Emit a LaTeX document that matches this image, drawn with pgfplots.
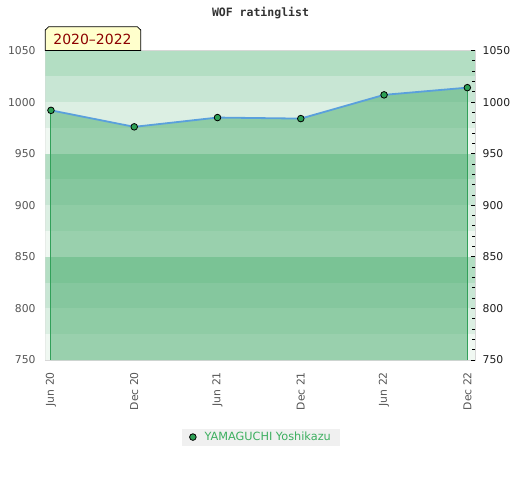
\documentclass[border=0pt]{standalone}
\usepackage{fontspec}
\setmainfont{DejaVu Sans}
\newfontfamily\titlefont{DejaVu Sans Mono}
\usepackage{pgfplots}
\pgfplotsset{compat=1.18}
\definecolor{bandA}{RGB}{179,222,195}
\definecolor{bandB}{RGB}{200,230,212}
\definecolor{bandC}{RGB}{220,239,227}
\definecolor{bandD}{RGB}{240,248,242}
\definecolor{areag}{RGB}{67,170,105}
\definecolor{edgeg}{RGB}{50,160,90}
\definecolor{lineb}{RGB}{90,160,220}
\definecolor{markg}{RGB}{45,160,85}
\definecolor{legtext}{RGB}{60,175,95}
\definecolor{labred}{RGB}{140,0,0}
\definecolor{labbg}{RGB}{255,255,204}
\definecolor{leftlab}{RGB}{85,85,85}
\definecolor{rightlab}{RGB}{30,30,30}
\definecolor{legbg}{RGB}{240,240,240}
\definecolor{borderg}{RGB}{215,215,215}
\begin{document}
\begin{tikzpicture}
\path[use as bounding box] (0pt,0pt) rectangle (520pt,480pt);
\begin{axis}[
  at={(45.3pt,120pt)}, anchor=south west,
  scale only axis, width=429.7pt, height=309.5pt,
  xmin=-0.068, xmax=5.092, ymin=750, ymax=1050,
  xtick={0,1,2,3,4,5},
  xticklabels={Jun 20,Dec 20,Jun 21,Dec 21,Jun 22,Dec 22},
  ytick={750,800,850,900,950,1000,1050},
  major tick length=0pt, minor tick length=0pt,
  /pgf/number format/assume math mode=true,
  /pgf/number format/1000 sep={},
  axis line style={draw=borderg, line width=1.2pt},
  xticklabel style={rotate=90, anchor=east, inner sep=0pt, text=leftlab,
    font=\fontsize{10.8}{12}\selectfont},
  xticklabel shift=12pt,
  yticklabel style={anchor=east, inner sep=0pt, text=leftlab,
    font=\fontsize{10.8}{12}\selectfont},
  yticklabel shift=9.5pt,
  legend style={at={(0.502,-0.249)}, anchor=center, fill=legbg, draw=none,
    font=\fontsize{11.3}{12.5}\selectfont, text=legtext, inner xsep=7pt, inner ysep=1.5pt,
    /tikz/every odd column/.append style={column sep=6pt}},
  legend cell align=left,
  clip=true,
]
% background bands
\addplot[draw=none, fill=bandD, forget plot] coordinates {(-0.068,750)(5.092,750)(5.092,775)(-0.068,775)} --cycle;
\addplot[draw=none, fill=bandC, forget plot] coordinates {(-0.068,775)(5.092,775)(5.092,800)(-0.068,800)} --cycle;
\addplot[draw=none, fill=bandB, forget plot] coordinates {(-0.068,800)(5.092,800)(5.092,825)(-0.068,825)} --cycle;
\addplot[draw=none, fill=bandA, forget plot] coordinates {(-0.068,825)(5.092,825)(5.092,850)(-0.068,850)} --cycle;
\addplot[draw=none, fill=bandD, forget plot] coordinates {(-0.068,850)(5.092,850)(5.092,875)(-0.068,875)} --cycle;
\addplot[draw=none, fill=bandC, forget plot] coordinates {(-0.068,875)(5.092,875)(5.092,900)(-0.068,900)} --cycle;
\addplot[draw=none, fill=bandB, forget plot] coordinates {(-0.068,900)(5.092,900)(5.092,925)(-0.068,925)} --cycle;
\addplot[draw=none, fill=bandA, forget plot] coordinates {(-0.068,925)(5.092,925)(5.092,950)(-0.068,950)} --cycle;
\addplot[draw=none, fill=bandD, forget plot] coordinates {(-0.068,950)(5.092,950)(5.092,975)(-0.068,975)} --cycle;
\addplot[draw=none, fill=bandC, forget plot] coordinates {(-0.068,975)(5.092,975)(5.092,1000)(-0.068,1000)} --cycle;
\addplot[draw=none, fill=bandB, forget plot] coordinates {(-0.068,1000)(5.092,1000)(5.092,1025)(-0.068,1025)} --cycle;
\addplot[draw=none, fill=bandA, forget plot] coordinates {(-0.068,1025)(5.092,1025)(5.092,1050)(-0.068,1050)} --cycle;
% area under the rating line
\addplot[draw=none, fill=areag, fill opacity=0.5, forget plot] coordinates {
  (0,750) (0,992) (1,976) (2,985) (3,984) (4,1007) (5,1014) (5,750)} --cycle;
\addplot[edgeg, line width=1pt, forget plot] coordinates {(0,750) (0,992)};
\addplot[edgeg, line width=1pt, forget plot] coordinates {(5,750) (5,1014)};
% rating line
\addplot[lineb, line width=1.8pt, mark=*, mark size=3.3pt,
  mark options={fill=markg, draw=black, line width=0.8pt},
  legend image code/.code={\draw[fill=markg, draw=black, line width=0.8pt] (0pt,0pt) circle (3.3pt);}]
  coordinates {(0,992) (1,976) (2,985) (3,984) (4,1007) (5,1014)};
\addlegendentry{YAMAGUCHI Yoshikazu}
\end{axis}
\begin{axis}[
  at={(45.3pt,120pt)}, anchor=south west,
  scale only axis, width=429.7pt, height=309.5pt,
  xmin=-0.068, xmax=5.092, ymin=750, ymax=1050,
  axis x line=none, axis y line*=right,
  y axis line style={draw=none},
  ytick={750,800,850,900,950,1000,1050},
  minor y tick num=4,
  tick align=inside,
  major tick length=4pt, minor tick length=3pt,
  tick style={black, line width=0.8pt},
  /pgf/number format/assume math mode=true,
  /pgf/number format/1000 sep={},
  yticklabel style={anchor=west, inner sep=0pt, text=rightlab,
    font=\fontsize{10.8}{12}\selectfont},
  yticklabel shift=7.5pt,
]
\end{axis}
% title
\node[font=\titlefont\bfseries\fontsize{11.5}{13}\selectfont, text={rgb,255:red,50;green,50;blue,50}] at (260.5pt,467pt) {WOF ratinglist};
% period label
\filldraw[fill=labbg, draw=black, line width=0.8pt]
  (45.3pt,429.5pt) -- (140.7pt,429.5pt) -- (140.7pt,450pt) -- (137.3pt,453.3pt)
  -- (48.7pt,453.3pt) -- (45.3pt,450pt) -- cycle;
\node[font=\fontsize{14}{16}\selectfont, text=labred] at (92.5pt,440.5pt) {2020–2022};
\end{tikzpicture}
\end{document}
